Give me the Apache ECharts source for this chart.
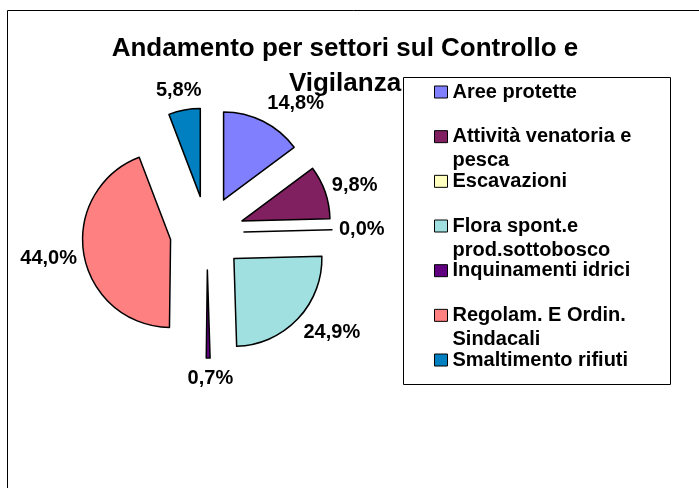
<!DOCTYPE html>
<html>
<head>
<meta charset="utf-8">
<script src="https://cdn.jsdelivr.net/npm/echarts@6/dist/echarts.min.js"></script>
<style>
  html, body { margin: 0; padding: 0; background: #fff; }
  #main { width: 699px; height: 488px; }
</style>
</head>
<body>
<div id="main"></div>
<script>
// dati del grafico
var categorie = ['Aree protette', 'Attività venatoria e pesca', 'Escavazioni',
  'Flora spont.e prod.sottobosco', 'Inquinamenti idrici',
  'Regolam. E Ordin. Sindacali', 'Smaltimento rifiuti'];
var testoLegenda = ['Aree protette', 'Attività venatoria e\npesca', 'Escavazioni',
  'Flora spont.e\nprod.sottobosco', 'Inquinamenti idrici',
  'Regolam. E Ordin.\nSindacali', 'Smaltimento rifiuti'];
var percentuali = [14.8, 9.8, 0.0, 24.9, 0.7, 44.0, 5.8];
var colori = ['#8080FF', '#802060', '#FFFFC0', '#A0E0E0', '#600080', '#FF8080', '#0080C0'];

var myChart = echarts.init(document.getElementById('main'), null, { renderer: 'canvas' });

var font = "'Liberation Sans', Arial, sans-serif";

var totale = percentuali.reduce(function (a, b) { return a + b; }, 0);

// direzione (seno dell'angolo medio) di ogni fetta, per sistemare le etichette
function dirX(i) {
  var cum = 0;
  for (var k = 0; k < i; k++) cum += percentuali[k];
  var a = (cum + percentuali[i] / 2) / totale * Math.PI * 2;
  return Math.sin(a);
}

var dati = categorie.map(function (nome, i) {
  return {
    name: nome,
    value: percentuali[i],
    selected: true,
    itemStyle: { color: colori[i] }
  };
});

var option = {
  animation: false,
  backgroundColor: '#fff',
  color: colori,
  title: {
    text: 'Andamento per settori sul Controllo e\nVigilanza',
    left: 345,
    top: 31,
    padding: 0,
    textAlign: 'center',
    textStyle: {
      fontFamily: font,
      fontSize: 26,
      fontWeight: 'bold',
      color: '#000',
      lineHeight: 35
    }
  },
  graphic: [
    {
      type: 'rect',
      z: -1,
      shape: { x: 7.5, y: 10.5, width: 720, height: 520 },
      style: { fill: 'none', stroke: '#000', lineWidth: 1 }
    },
    {
      type: 'rect',
      z: 1,
      shape: { x: 403.5, y: 77.5, width: 267, height: 307 },
      style: { fill: '#fff', stroke: '#000', lineWidth: 1 }
    }
  ],
  legend: {
    orient: 'vertical',
    left: 434,
    top: 56,
    padding: 0,
    itemGap: -27.33,
    itemWidth: 13,
    itemHeight: 12,
    icon: 'rect',
    selectedMode: false,
    z: 5,
    itemStyle: { borderColor: '#000', borderWidth: 1 },
    formatter: function (name) {
      // riga vuota sopra, così la prima riga resta allineata al simbolo
      var righe = testoLegenda[categorie.indexOf(name)].split('\n');
      return '\n' + righe[0] + '\n' + (righe[1] || '');
    },
    textStyle: {
      fontFamily: font,
      fontSize: 20,
      fontWeight: 'bold',
      color: '#000',
      lineHeight: 24
    },
    data: categorie
  },
  series: [
    {
      type: 'pie',
      center: [207, 233],
      radius: 88,
      startAngle: 90,
      clockwise: true,
      selectedMode: 'multiple',
      selectedOffset: 37,
      avoidLabelOverlap: false,
      emphasis: { disabled: true },
      itemStyle: { borderColor: '#000', borderWidth: 1.5 },
      select: { itemStyle: { borderColor: '#000', borderWidth: 1.5 } },
      label: {
        show: true,
        position: 'outside',
        distanceToLabelLine: 2,
        fontFamily: font,
        fontSize: 20,
        fontWeight: 'bold',
        color: '#000',
        formatter: function (p) {
          return p.value.toFixed(1).replace('.', ',') + '%';
        }
      },
      labelLine: { show: false, length: 20, length2: 0 },
      labelLayout: function (p) {
        var dx = dirX(p.dataIndex);
        if (Math.abs(dx) < 0.3) {
          return { align: 'center' };
        }
        return { dx: -dx * 15 };
      },
      data: dati
    }
  ]
};

myChart.setOption(option);
window.onresize = function () {
  myChart.resize();
};
</script>
</body>
</html>
